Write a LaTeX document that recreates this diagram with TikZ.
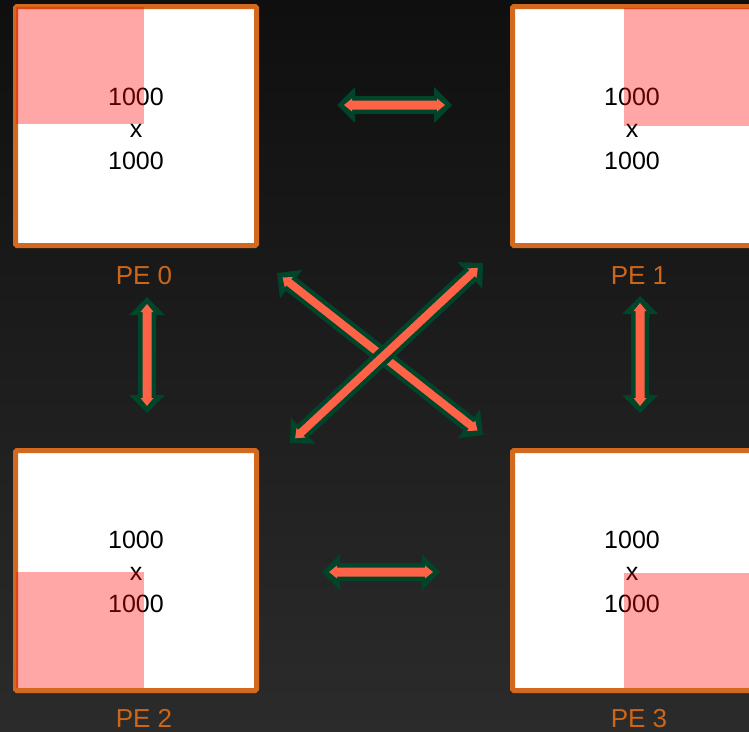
\documentclass[tikz,border=0pt]{standalone}
\usepackage{fontspec}
\setmainfont{Liberation Sans}
\usetikzlibrary{calc}
\definecolor{bgtop}{HTML}{0F0F0F}
\definecolor{bgbot}{HTML}{2B2B2B}
\definecolor{peorange}{HTML}{D2691E}
\definecolor{labelorange}{HTML}{CC6619}
\definecolor{arrgreen}{HTML}{00442A}
\definecolor{arrred}{HTML}{FF6347}
\tikzset{
  pics/dblarrow/.style args={#1/#2/#3}{code={
    \fill[arrgreen] (0pt,0pt) -- (18pt,18pt) -- (18pt,#2) -- ({#1-18pt},#2) -- ({#1-18pt},18pt)
      -- (#1,0pt) -- ({#1-18pt},-18pt) -- ({#1-18pt},-#2) -- (18pt,-#2) -- (18pt,-18pt) -- cycle;
    \fill[arrred] (7pt,0pt) -- (15pt,6.5pt) -- (15pt,#3) -- ({#1-15pt},#3) -- ({#1-15pt},6.5pt)
      -- ({#1-7pt},0pt) -- ({#1-15pt},-6.5pt) -- ({#1-15pt},-#3) -- (15pt,-#3) -- (15pt,-6.5pt) -- cycle;
  }}
}
\begin{document}
\begin{tikzpicture}[x=1pt,y=-1pt,
  pebox/.style={draw=peorange,fill=white,line width=5pt,rounded corners=1.5pt,
    minimum width=241pt,inner sep=0pt,outer sep=0pt},
  quad/.style={fill=red,fill opacity=0.35},
  numtext/.style={anchor=base,font=\fontsize{25}{30}\selectfont,text=black,inner sep=0pt},
  pelabel/.style={anchor=base,font=\fontsize{26}{30}\selectfont,text=labelorange,inner sep=0pt},
]
\useasboundingbox (0,0) rectangle (749,731);
\clip (0,0) rectangle (749,731);
\shade[top color=bgtop,bottom color=bgbot] (0,0) rectangle (749,731);

% boxes
\node[pebox,minimum height=239pt] (pe0) at (136,126) {};
\node[pebox,minimum height=239pt] (pe1) at (633,126) {};
\node[pebox,minimum height=240pt] (pe2) at (136,570.5) {};
\node[pebox,minimum height=240pt] (pe3) at (633,570.5) {};

% texts
\node[numtext] (t0a) at (136,105) {1000};
\node[numtext] (t0b) at (136,137) {x};
\node[numtext] (t0c) at (136,169) {1000};
\node[numtext] (t1a) at (632,105) {1000};
\node[numtext] (t1b) at (632,137) {x};
\node[numtext] (t1c) at (632,169) {1000};
\node[numtext] (t2a) at (136,548) {1000};
\node[numtext] (t2b) at (136,580) {x};
\node[numtext] (t2c) at (136,612) {1000};
\node[numtext] (t3a) at (632,548) {1000};
\node[numtext] (t3b) at (632,580) {x};
\node[numtext] (t3c) at (632,612) {1000};

% quadrants
\fill[quad] (16,7) rectangle (144,124);
\fill[quad] (624,8) rectangle (749,126);
\fill[quad] (16,572) rectangle (144,688);
\fill[quad] (624,573) rectangle (749,688);

% labels
\node[pelabel] (l0) at (144,284) {PE 0};
\node[pelabel] (l1) at (639,284) {PE 1};
\node[pelabel] (l2) at (144,727) {PE 2};
\node[pelabel] (l3) at (639,727) {PE 3};

% arrow end points
\coordinate (ta) at (337,105);
\coordinate (tb) at (452,105);
\coordinate (ba) at (322,572);
\coordinate (bb) at (440,572);
\coordinate (la) at (147,297);
\coordinate (lb) at (147,413);
\coordinate (ra) at (640,296);
\coordinate (rb) at (640,413);
\coordinate (da) at (277,273);
\coordinate (db) at (483,435);
\coordinate (ea) at (290,443);
\coordinate (eb) at (483,263);

% arrows
\path let \p1=($(tb)-(ta)$), \n1={veclen(\x1,\y1)}, \n2={atan2(\y1,\x1)} in
  (ta) pic[rotate=\n2] {dblarrow={\n1/9pt/4.5pt}};
\path let \p1=($(bb)-(ba)$), \n1={veclen(\x1,\y1)}, \n2={atan2(\y1,\x1)} in
  (ba) pic[rotate=\n2] {dblarrow={\n1/9pt/4.5pt}};
\path let \p1=($(lb)-(la)$), \n1={veclen(\x1,\y1)}, \n2={atan2(\y1,\x1)} in
  (la) pic[rotate=\n2] {dblarrow={\n1/9pt/4.5pt}};
\path let \p1=($(rb)-(ra)$), \n1={veclen(\x1,\y1)}, \n2={atan2(\y1,\x1)} in
  (ra) pic[rotate=\n2] {dblarrow={\n1/9pt/4.5pt}};
\path let \p1=($(db)-(da)$), \n1={veclen(\x1,\y1)}, \n2={atan2(\y1,\x1)} in
  (da) pic[rotate=\n2] {dblarrow={\n1/8.5pt/4pt}};
\path let \p1=($(eb)-(ea)$), \n1={veclen(\x1,\y1)}, \n2={atan2(\y1,\x1)} in
  (ea) pic[rotate=\n2] {dblarrow={\n1/8.5pt/4pt}};
\end{tikzpicture}
\end{document}
